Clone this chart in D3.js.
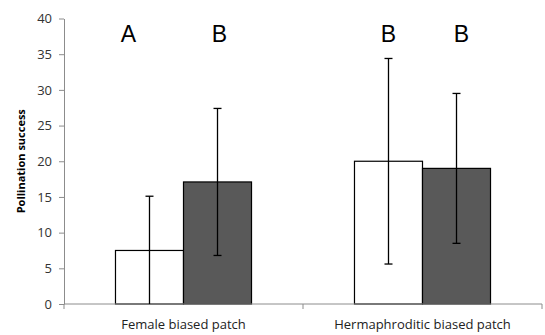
<!DOCTYPE html>
<html>
<head>
<meta charset="utf-8">
<script src="https://cdn.jsdelivr.net/npm/d3@7"></script>
<style>
  html, body { margin: 0; padding: 0; background: #fff; }
  svg { display: block; }
</style>
</head>
<body>
<svg id="chart" width="545" height="335"></svg>
<script>
// Patch types along the x axis
const categories = ["Female biased patch", "Hermaphroditic biased patch"];
// Two flower types per patch: open (white) and filled (dark)
const series = ["open", "filled"];
// Mean pollination success
const openMeans = [7.5, 20];
const filledMeans = [17.1, 19];
// Error bar half-lengths
const openErrors = [7.6, 14.4];
const filledErrors = [10.3, 10.5];
// Significance letters above each bar
const openLetters = ["A", "B"];
const filledLetters = ["B", "B"];
// y axis
const yTicks = [0, 5, 10, 15, 20, 25, 30, 35, 40];
const yLabel = "Pollination success";

const margin = { left: 64, right: 3, top: 18.5, bottom: 31 };
const W = 545, H = 335;
const svg = d3.select("#chart");

const x = d3.scaleBand().domain(categories).range([margin.left, W - margin.right]).paddingInner(0).paddingOuter(0);
const xSub = d3.scaleBand().domain(series).range([0, x.bandwidth()]).paddingInner(0).paddingOuter(0.757);
const y = d3.scaleLinear().domain([0, 40]).range([H - margin.bottom, margin.top]);

const rows = categories.map((c, i) => [
  { cat: c, s: "open", v: openMeans[i], e: openErrors[i], letter: openLetters[i], dx: i === 0 ? -21 : 0 },
  { cat: c, s: "filled", v: filledMeans[i], e: filledErrors[i], letter: filledLetters[i], dx: i === 0 ? 2 : 5 }
]).flat();

const fills = { open: "#ffffff", filled: "#595959" };
const axisColor = "#8c8c8c";
const font = "'Open Sans', 'DejaVu Sans', sans-serif";

// Bars
svg.append("g").selectAll("rect").data(rows).join("rect")
  .attr("x", d => x(d.cat) + xSub(d.s))
  .attr("y", d => y(d.v))
  .attr("width", xSub.bandwidth())
  .attr("height", d => y(0) - y(d.v))
  .attr("fill", d => fills[d.s])
  .attr("stroke", "#000")
  .attr("stroke-width", 1.2);

// Y axis
const yAxis = svg.append("g")
  .attr("transform", `translate(${margin.left},0)`)
  .call(d3.axisLeft(y).tickValues(yTicks).tickSize(5).tickPadding(7).tickSizeOuter(0));
yAxis.select(".domain").attr("stroke", axisColor).attr("stroke-width", 1);
yAxis.selectAll(".tick line").attr("stroke", axisColor);
yAxis.selectAll(".tick text")
  .attr("fill", "#333")
  .style("font-family", font)
  .style("font-size", "13px");

// X axis: ticks at category boundaries
const xAxisG = svg.append("g").attr("transform", `translate(0,${y(0)})`);
xAxisG.append("line")
  .attr("x1", margin.left).attr("x2", W - margin.right)
  .attr("stroke", axisColor).attr("stroke-width", 1);
const bounds = categories.map(c => x(c)).concat([x(categories[categories.length - 1]) + x.bandwidth()]);
xAxisG.selectAll("line.tk").data(bounds).join("line")
  .attr("class", "tk")
  .attr("x1", d => d).attr("x2", d => d)
  .attr("y1", 0).attr("y2", 5)
  .attr("stroke", axisColor);
xAxisG.selectAll("text").data(categories).join("text")
  .attr("x", d => x(d) + x.bandwidth() / 2)
  .attr("y", 25)
  .attr("text-anchor", "middle")
  .attr("fill", "#222")
  .style("font-family", font)
  .style("font-size", "13px")
  .text(d => d);

// Error bars (clipped at the axis minimum; no cap where clipped)
const eb = svg.append("g").attr("stroke", "#000").attr("stroke-width", 1.3);
rows.forEach(d => {
  const cx = x(d.cat) + xSub(d.s) + xSub.bandwidth() / 2;
  const lo = Math.max(0, d.v - d.e), hi = d.v + d.e;
  eb.append("line").attr("x1", cx).attr("x2", cx).attr("y1", y(lo)).attr("y2", y(hi));
  eb.append("line").attr("x1", cx - 4).attr("x2", cx + 4).attr("y1", y(hi)).attr("y2", y(hi));
  if (d.v - d.e > 0) {
    eb.append("line").attr("x1", cx - 4).attr("x2", cx + 4).attr("y1", y(lo)).attr("y2", y(lo));
  }
});

// Significance letters
svg.append("g").selectAll("text").data(rows).join("text")
  .attr("x", d => x(d.cat) + xSub(d.s) + xSub.bandwidth() / 2 + d.dx)
  .attr("y", 42)
  .attr("text-anchor", "middle")
  .attr("fill", "#000")
  .style("font-family", "'Liberation Sans', Arial, sans-serif")
  .style("font-size", "23px")
  .text(d => d.letter);

// Y axis title
svg.append("text")
  .attr("transform", `translate(21,${(y(0) + y(40)) / 2}) rotate(-90)`)
  .attr("dy", "0.35em")
  .attr("text-anchor", "middle")
  .attr("fill", "#000")
  .style("font-family", font)
  .style("font-size", "11px")
  .style("font-weight", "bold")
  .text(yLabel);
</script>
</body>
</html>
